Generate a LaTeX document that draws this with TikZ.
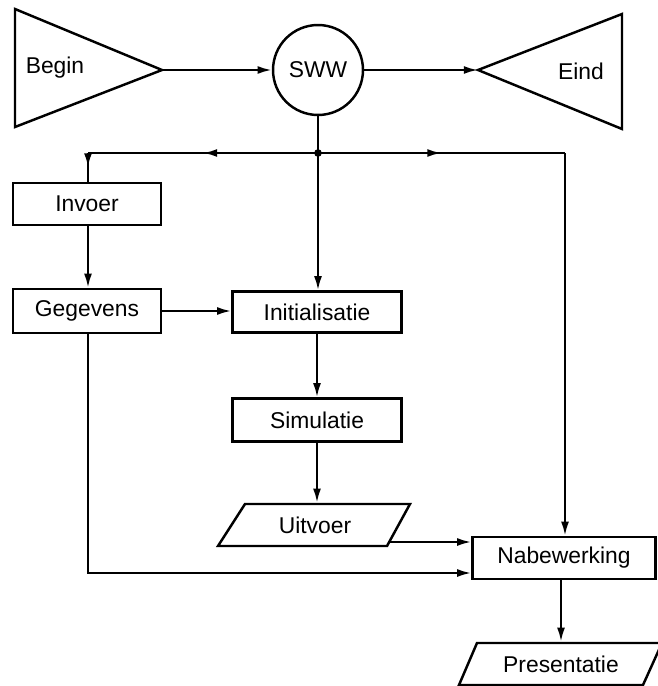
\documentclass[tikz,border=0pt]{standalone}
\usepackage{fontspec}
\setmainfont{Liberation Sans}
\usetikzlibrary{arrows.meta,decorations.markings}
\begin{document}
\begin{tikzpicture}[x=0.02cm,y=-0.02cm,
  font=\fontsize{13}{15}\selectfont,
  line width=1.4pt,
  >={Latex[length=8pt,width=4.5pt]},
  box/.style={draw, rectangle, inner sep=0pt},
  link/.style={line width=1.3pt},
  midarrow/.style={postaction={decorate},
    decoration={markings,mark=at position 0.5 with {\arrow{Latex[length=8pt,width=4.5pt]}}}}
]
\useasboundingbox (0,0) rectangle (657,686);

% start and end terminators
\draw[line join=miter] (15,9) -- (162,70) -- (15,127) -- cycle;
\coordinate (beginTip) at (162,70);
\node (begin) at (55,68) {Begin};
\draw[line join=miter] (478,70) -- (622,14) -- (622,129) -- cycle;
\coordinate (eindTip) at (478,70);
\node (eind) at (581,71) {Eind};

% central control unit
\node[draw, circle, minimum size=1.8cm, inner sep=0pt] (sww) at (318,70) {SWW};

% process boxes
\node[box, minimum width=2.96cm, minimum height=0.84cm] (invoer) at (87,204) {Invoer};
\node[box, minimum width=2.96cm, minimum height=0.88cm] (gegevens) at (87,311) {Gegevens};
\node[box, minimum width=3.38cm, minimum height=0.82cm] (initialisatie) at (317,312) {Initialisatie};
\node[box, minimum width=3.38cm, minimum height=0.86cm] (simulatie) at (317,420) {Simulatie};
\node[box, minimum width=3.66cm, minimum height=0.84cm] (nabewerking) at (564,558) {Nabewerking};

% output parallelograms
\draw (245,504) -- (410,504) -- (387,546) -- (218,546) -- cycle;
\node[minimum width=3.3cm, minimum height=0.84cm, inner sep=0pt] (uitvoer) at (315,525) {Uitvoer};
\draw (477,643) -- (662,643) -- (643,685) -- (459,685) -- cycle;
\node[minimum width=3.3cm, minimum height=0.84cm, inner sep=0pt] (presentatie) at (561,664) {Presentatie};

% distribution line below SWW
\coordinate (junction) at (318,153);
\coordinate (leftCorner) at (88,153);
\coordinate (rightCorner) at (565,153);
\coordinate (uitvoerOut) at (389,542);
\coordinate (loopCorner) at (88,573);

% connectors
\draw[link,->] (beginTip) -- (sww);
\draw[link,->] (sww) -- (eindTip);
\draw[link] (sww) -- (junction);
\fill (junction) circle (2.2pt);
\draw[link,->] (junction) -- (junction |- initialisatie.north);
\draw[link,midarrow] (junction) -- (leftCorner);
\draw[link,midarrow] (leftCorner) -- (leftCorner |- invoer.north);
\draw[link,midarrow] (junction) -- (rightCorner);
\draw[link,->] (rightCorner) -- (rightCorner |- nabewerking.north);
\draw[link,->] (invoer.south -| leftCorner) -- (gegevens.north -| leftCorner);
\draw[link,->] (gegevens.east) -- (gegevens.east -| initialisatie.west);
\draw[link,->] (initialisatie) -- (simulatie);
\draw[link,->] (simulatie.south) -- (simulatie.south |- uitvoer.north);
\draw[link,->] (uitvoerOut) -- (uitvoerOut -| nabewerking.west);
\draw[link,->] (gegevens.south -| loopCorner) -- (loopCorner) -- (loopCorner -| nabewerking.west);
\draw[link,->] (nabewerking.south -| presentatie.north) -- (presentatie.north);
\end{tikzpicture}
\end{document}
